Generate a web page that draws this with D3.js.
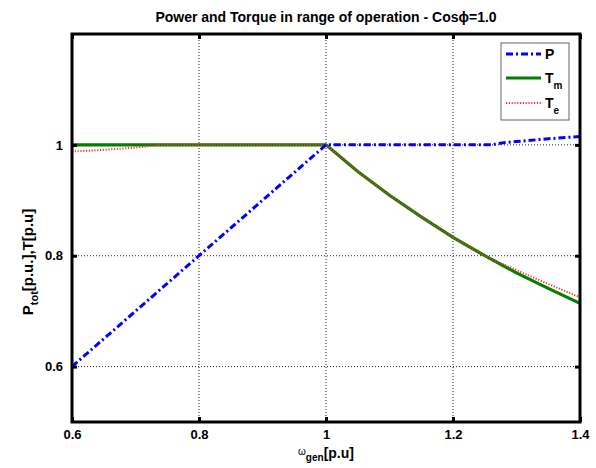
<!DOCTYPE html>
<html>
<head>
<meta charset="utf-8">
<script src="https://cdn.jsdelivr.net/npm/d3@7"></script>
<style>
  html, body { margin: 0; padding: 0; background: #fff; }
  svg { display: block; font-family: "Liberation Sans", Arial, sans-serif; }
</style>
</head>
<body>
<svg id="chart" width="596" height="468"></svg>
<script>
// Generator speed samples [p.u] and the curves over the range of operation
const omegaP = [0.6, 0.65, 0.7, 0.75, 0.8, 0.85, 0.9, 0.95, 1.0, 1.05, 1.1, 1.15, 1.2, 1.26, 1.28, 1.3, 1.35, 1.4];
const powerP = [0.6, 0.65, 0.7, 0.75, 0.8, 0.85, 0.9, 0.95, 1.0, 1.0, 1.0, 1.0, 1.0, 1.0, 1.004, 1.006, 1.011, 1.015];

const omegaTm = [0.6, 0.7, 0.8, 0.9, 1.0, 1.05, 1.1, 1.15, 1.2, 1.25, 1.3, 1.35, 1.4];
const torqueTm = [1.0, 1.0, 1.0, 1.0, 1.0, 0.952, 0.909, 0.870, 0.833, 0.800, 0.769, 0.741, 0.714];

const omegaTe = [0.6, 0.65, 0.7, 0.74, 0.8, 0.9, 1.0, 1.05, 1.1, 1.15, 1.2, 1.25, 1.28, 1.3, 1.35, 1.4];
const torqueTe = [0.988, 0.991, 0.995, 1.0, 1.0, 1.0, 1.0, 0.952, 0.909, 0.870, 0.833, 0.800, 0.784, 0.774, 0.749, 0.725];

const xTicks = [0.6, 0.8, 1.0, 1.2, 1.4];
const yTicks = [0.6, 0.8, 1.0];
const xTickLabels = ["0.6", "0.8", "1", "1.2", "1.4"];
const yTickLabels = ["0.6", "0.8", "1"];

const svg = d3.select("#chart");
const plotL = 72, plotR = 580, plotT = 34, plotB = 422;

const x = d3.scaleLinear().domain([0.6, 1.4]).range([plotL, plotR]);
const y = d3.scaleLinear().domain([0.5, 1.2]).range([plotB, plotT]);

// Dotted grid
const grid = svg.append("g");
grid.selectAll("line.gx").data(xTicks.slice(1, -1)).join("line")
  .attr("x1", d => x(d)).attr("x2", d => x(d))
  .attr("y1", plotT).attr("y2", plotB)
  .attr("stroke", "#222").attr("stroke-width", 1).attr("stroke-dasharray", "1,2");
grid.selectAll("line.gy").data(yTicks).join("line")
  .attr("x1", plotL).attr("x2", plotR)
  .attr("y1", d => y(d)).attr("y2", d => y(d))
  .attr("stroke", "#222").attr("stroke-width", 1).attr("stroke-dasharray", "1,2");

// Curves
const line = d3.line().x(d => x(d[0])).y(d => y(d[1]));
const zip = (a, b) => a.map((v, i) => [v, b[i]]);

svg.append("path").datum(zip(omegaTm, torqueTm))
  .attr("d", line).attr("fill", "none")
  .attr("stroke", "#008000").attr("stroke-width", 3.2);

svg.append("path").datum(zip(omegaTe, torqueTe))
  .attr("d", line).attr("fill", "none")
  .attr("stroke", "#ff3333").attr("stroke-width", 2).attr("stroke-dasharray", "1.2,1.6");

svg.append("path").datum(zip(omegaP, powerP))
  .attr("d", line).attr("fill", "none")
  .attr("stroke", "#0000ff").attr("stroke-width", 3).attr("stroke-dasharray", "7,3,2,3");

// Axes with inward ticks
const xAxisB = d3.axisBottom(x).tickValues(xTicks).tickSize(-5).tickPadding(8)
  .tickFormat((d, i) => xTickLabels[i]);
const xAxisT = d3.axisTop(x).tickValues(xTicks).tickSize(-5).tickFormat("");
const yAxisL = d3.axisLeft(y).tickValues(yTicks).tickSize(-5).tickPadding(9)
  .tickFormat((d, i) => yTickLabels[i]);
const yAxisR = d3.axisRight(y).tickValues(yTicks).tickSize(-5).tickFormat("");

function styleAxis(g) {
  g.select(".domain").remove();
  g.selectAll(".tick line").attr("stroke", "#000").attr("stroke-width", 3);
  g.selectAll(".tick text").attr("fill", "#000")
    .style("font-size", "13px").style("font-weight", "bold")
    .style("font-family", "'Liberation Sans', Arial, sans-serif");
}

svg.append("g").attr("transform", `translate(0,${plotB})`).call(xAxisB).call(styleAxis);
svg.append("g").attr("transform", `translate(0,${plotT})`).call(xAxisT).call(styleAxis);
svg.append("g").attr("transform", `translate(${plotL},0)`).call(yAxisL).call(styleAxis);
svg.append("g").attr("transform", `translate(${plotR},0)`).call(yAxisR).call(styleAxis);

// Frame
svg.append("rect").attr("x", plotL).attr("y", plotT)
  .attr("width", plotR - plotL).attr("height", plotB - plotT)
  .attr("fill", "none").attr("stroke", "#000").attr("stroke-width", 3);

// Title
svg.append("text").attr("x", (plotL + plotR) / 2).attr("y", 22)
  .attr("text-anchor", "middle").style("font-size", "14px").style("font-weight", "bold")
  .text("Power and Torque in range of operation - Cosϕ=1.0");

// X label
const xl = svg.append("text").attr("x", (plotL + plotR) / 2).attr("y", 458)
  .attr("text-anchor", "middle").style("font-weight", "bold").style("font-size", "14px");
xl.append("tspan").text("ω").style("font-size", "10px").style("font-weight", "normal").attr("dy", -3);
xl.append("tspan").text("gen").style("font-size", "10px").attr("dy", 6);
xl.append("tspan").text("[p.u]").attr("dy", -3);

// Y label
const yl = svg.append("text").attr("transform", "translate(33,262) rotate(-90)")
  .attr("text-anchor", "middle").style("font-weight", "bold").style("font-size", "15px");
yl.append("tspan").text("P");
yl.append("tspan").text("tot").style("font-size", "11px").attr("dy", 5);
yl.append("tspan").text("[p.u.],T[p.u]").attr("dy", -5);

// Legend
const lg = svg.append("g");
lg.append("rect").attr("x", 501).attr("y", 43).attr("width", 68).attr("height", 77)
  .attr("fill", "#fff").attr("stroke", "#666").attr("stroke-width", 1);
const entries = [
  { name: "P", sub: "", color: "#0000ff", w: 3, dash: "7,3,2,3", yy: 54 },
  { name: "T", sub: "m", color: "#008000", w: 3.2, dash: null, yy: 78 },
  { name: "T", sub: "e", color: "#ff3333", w: 2, dash: "1.2,1.6", yy: 103 }
];
entries.forEach(e => {
  lg.append("line").attr("x1", 506).attr("x2", 541).attr("y1", e.yy).attr("y2", e.yy)
    .attr("stroke", e.color).attr("stroke-width", e.w)
    .attr("stroke-dasharray", e.dash);
  const t = lg.append("text").attr("x", 545).attr("y", e.yy + 5)
    .style("font-size", "14px").style("font-weight", "bold");
  t.append("tspan").text(e.name);
  if (e.sub) t.append("tspan").text(e.sub).style("font-size", "10px").attr("dy", 6);
});
</script>
</body>
</html>
